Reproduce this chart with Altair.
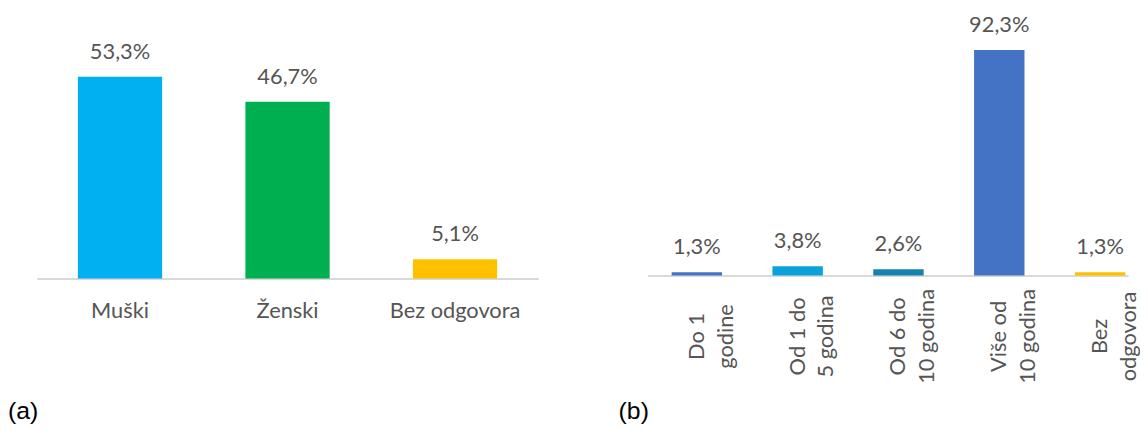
import altair as alt
import pandas as pd

# Panel (a)
a_cats = ["Muški", "Ženski", "Bez odgovora"]
a_vals = [53.3, 46.7, 5.1]
a_cols = ["#00B0F0", "#00B050", "#FFC000"]

# Panel (b)
b_cats = ["Do 1|godine", "Od 1 do|5 godina", "Od 6 do|10 godina", "Više od|10 godina", "Bez|odgovora"]
b_vals = [1.3, 3.8, 2.6, 92.3, 1.3]
b_cols = ["#4472C4", "#0AA2DA", "#1782AE", "#4472C4", "#FFC000"]

FONT = "Lato"
TXT = "#555555"
FS = 22

da = pd.DataFrame({"cat": a_cats, "v": a_vals})
db = pd.DataFrame({"cat": b_cats, "v": b_vals})

lab_expr = "replace(format(datum.v, '.1f'), '.', ',') + '%'"

# ---- left chart
xa = alt.X("cat:N", sort=a_cats, title=None,
           scale=alt.Scale(paddingInner=0.497, paddingOuter=0.2456),
           axis=alt.Axis(labelAngle=0, ticks=False, tickSize=0, labelPadding=32,
                         labelBaseline="middle", labelFont=FONT, labelFontSize=FS,
                         labelColor=TXT, domainColor="#d9d9d9", domainWidth=2))
ya = alt.Y("v:Q", title=None, scale=alt.Scale(domain=[0, 69.9], nice=False), axis=None)

bars_a = alt.Chart(da).mark_bar().encode(
    x=xa, y=ya,
    color=alt.Color("cat:N", scale=alt.Scale(domain=a_cats, range=a_cols), legend=None))
text_a = alt.Chart(da).transform_calculate(lab=lab_expr).mark_text(
    dy=-25, baseline="middle", font=FONT, fontSize=FS, color=TXT).encode(
    x=alt.X("cat:N", sort=a_cats), y="v:Q", text="lab:N")
tag_a = alt.Chart(pd.DataFrame({"t": ["(a)"]})).mark_text(
    align="left", baseline="bottom", font="Liberation Sans", fontSize=25, color="#000000").encode(
    x=alt.value(-29), y=alt.value(414), text="t:N")

left = alt.layer(bars_a, text_a, tag_a).properties(width=506, height=267)

# ---- right chart
xb = alt.X("cat:N", sort=b_cats, title=None,
           scale=alt.Scale(paddingInner=0.5, paddingOuter=0.1345, align=0.896),
           axis=alt.Axis(labelAngle=-90, labelAlign="center", labelBaseline="middle",
                         labelExpr="split(datum.value, '|')", labelLineHeight=29,
                         ticks=False, tickSize=0, labelPadding=61, labelOverlap=False,
                         labelFont=FONT, labelFontSize=FS, labelColor=TXT,
                         domainColor="#d9d9d9", domainWidth=2))
yb = alt.Y("v:Q", title=None, scale=alt.Scale(domain=[0, 107.1], nice=False), axis=None)

bars_b = alt.Chart(db).mark_bar().encode(
    x=xb, y=yb,
    color=alt.Color("cat:N", scale=alt.Scale(domain=b_cats, range=b_cols), legend=None))
text_b = alt.Chart(db).transform_calculate(lab=lab_expr).mark_text(
    dy=-25, baseline="middle", font=FONT, fontSize=FS, color=TXT).encode(
    x=alt.X("cat:N", sort=b_cats), y="v:Q", text="lab:N")
tag_b = alt.Chart(pd.DataFrame({"t": ["(b)"]})).mark_text(
    align="left", baseline="bottom", font="Liberation Sans", fontSize=25, color="#000000").encode(
    x=alt.value(-29), y=alt.value(414), text="t:N")

right = alt.layer(bars_b, text_b, tag_b).properties(width=485, height=264)

chart = alt.hconcat(left, right, spacing=81).resolve_scale(
    color="independent", x="independent", y="independent"
).properties(padding={"left": 0, "top": 4, "right": 0, "bottom": 0}).configure_view(stroke=None)

chart.save("out.html", embed_options={"renderer": "svg", "actions": False})
